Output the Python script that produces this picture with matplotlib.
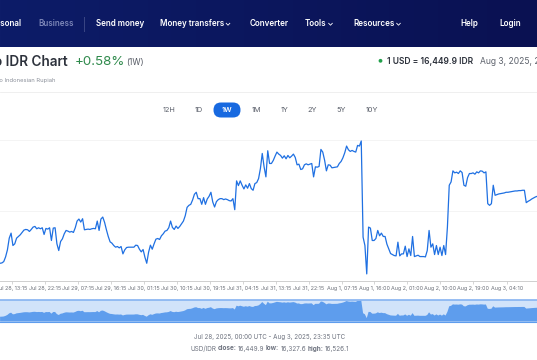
import numpy as np
import pandas as pd
import matplotlib
matplotlib.use('Agg')
import matplotlib.pyplot as plt
from matplotlib.patches import FancyBboxPatch, Circle
from matplotlib.colors import LinearSegmentedColormap

plt.rcParams['font.family'] = ['Inter', 'DejaVu Sans']

# USD/IDR rate, every 30 minutes from Jul 28 10:00 UTC
rate = [
    16343.5, 16344, 16346, 16353, 16363.5, 16381, 16388.5, 16370, 16372.5, 16381,
    16383.5, 16386, 16389.5, 16393, 16394, 16393.5, 16391, 16394, 16397.5, 16398.5,
    16395, 16396.5, 16395, 16396.5, 16386.5, 16395.5, 16394.5, 16396.5, 16377.5, 16396,
    16396.5, 16372.5, 16362.5, 16376, 16380, 16387.5, 16392.5, 16391.5, 16390, 16391,
    16389.5, 16396.5, 16406.5, 16409.5, 16405, 16410, 16393.5, 16394, 16394.5, 16394,
    16395, 16395.5, 16395, 16406.5, 16392.5, 16409.5, 16412.5, 16404.5, 16393.5, 16383.5,
    16375.5, 16373.5, 16370, 16367.5, 16368.5, 16366.5, 16368.5, 16357.5, 16363.5, 16367,
    16367.5, 16367.5, 16367.5, 16367.5, 16370.5, 16370, 16364.5, 16360.5, 16364, 16352.5,
    16343.5, 16360, 16370.5, 16364.5, 16372.5, 16379.5, 16380.5, 16379, 16384.5, 16387.5,
    16391.5, 16392.5, 16396.5, 16406.5, 16397, 16394, 16399, 16395.5, 16398.5, 16402.5,
    16406.5, 16414.5, 16427, 16430, 16431.5, 16438, 16446.5, 16449.5, 16440, 16440,
    16431.5, 16441.5, 16431.5, 16439.5, 16443.5, 16449.5, 16435, 16427.5, 16435.5, 16438.5,
    16440, 16440, 16438.5, 16439.5, 16438.5, 16437, 16436.5, 16440, 16423.5, 16466.5,
    16459.5, 16466.5, 16460, 16454.5, 16460.5, 16455.5, 16462.5, 16455, 16452.5, 16462.5,
    16464, 16470, 16485, 16507.5, 16487.5, 16472.5, 16511.5, 16492.5, 16492.5, 16497,
    16503.5, 16509.5, 16506.5, 16504.5, 16500.5, 16504, 16499.5, 16504.5, 16501, 16503.5,
    16506.5, 16501.5, 16490.5, 16491.5, 16483.5, 16484.5, 16490.5, 16492, 16490.5, 16491.5,
    16492.5, 16472.5, 16487.5, 16487, 16488, 16513.5, 16509.5, 16497.5, 16481.5, 16490.5,
    16490, 16486, 16486.5, 16487, 16487.5, 16492.5, 16495.5, 16501, 16508.5, 16518.5,
    16513, 16510.5, 16512, 16510.5, 16509.5, 16519.5, 16518.5, 16526.1, 16382.5, 16370,
    16327.6, 16397.5, 16396, 16377.5, 16377.5, 16380.5, 16392.5, 16384.5, 16388.5, 16383.5,
    16383.5, 16372, 16365, 16358, 16356.5, 16355, 16354.5, 16375, 16354.5, 16357.5,
    16357.5, 16369, 16353.5, 16365, 16355, 16383.5, 16353.5, 16354.5, 16355.5, 16353.5,
    16353.5, 16353.5, 16353, 16362.5, 16392.5, 16367.5, 16372.5, 16356.5, 16370, 16356.5,
    16367.5, 16355, 16370, 16356.5, 16397.5, 16460, 16465, 16481.5, 16478.5, 16479.5,
    16477.5, 16481.5, 16479, 16460, 16458.5, 16471.5, 16477.5, 16477.5, 16478.5, 16476.5,
    16480, 16478.5, 16481.5, 16481, 16478.5, 16480, 16432.5, 16430, 16432.5, 16460,
    16445, 16446, 16447, 16447.5, 16448, 16448.5, 16449.5, 16449.5, 16450, 16450.5,
    16451, 16451.5, 16451.5, 16452, 16452, 16452.5, 16452.5, 16434, 16436, 16437.5,
    16439.5, 16441, 16442.5, 16443.5,
]
times = pd.date_range('2025-07-28 10:00', periods=len(rate), freq='30min')

tick_times = pd.to_datetime([
    '2025-07-28 13:15', '2025-07-28 22:15', '2025-07-29 07:15', '2025-07-29 16:15',
    '2025-07-30 01:15', '2025-07-30 10:15', '2025-07-30 19:15', '2025-07-31 04:15',
    '2025-07-31 13:15', '2025-07-31 22:15', '2025-08-01 07:15', '2025-08-01 16:00',
    '2025-08-02 01:00', '2025-08-02 10:00', '2025-08-02 19:00', '2025-08-03 04:10',
])
tick_labels = [
    'Jul 28, 13:15', 'Jul 28, 22:15', 'Jul 29, 07:15', 'Jul 29, 16:15',
    'Jul 30, 01:15', 'Jul 30, 10:15', 'Jul 30, 19:15', 'Jul 31, 04:15',
    'Jul 31, 13:15', 'Jul 31, 22:15', 'Aug 1, 07:15', 'Aug 1, 16:00',
    'Aug 2, 01:00', 'Aug 2, 10:00', 'Aug 2, 19:00', 'Aug 3, 04:10',
]

menu = ['Personal', 'Business', 'Send money', 'Money transfers', 'Converter',
        'Tools', 'Resources', 'Help', 'Login']
menu_x = [21.5, 38.7, 95.7, 160, 249.7, 305, 353, 460.7, 499.7]
chevron_x = [228, 330.5, 398.5]

ranges = ['12H', '1D', '1W', '1M', '1Y', '2Y', '5Y', '10Y']
range_x = [169.2, 199, 227, 256.7, 284.2, 311.8, 341, 371.7]

W, H = 537, 360
fig = plt.figure(figsize=(W / 100, H / 100), dpi=100, facecolor='white')

# page layer in pixel units
bg = fig.add_axes([0, 0, 1, 1])
navcm = LinearSegmentedColormap.from_list('nav', ['#0d1c68', '#0a1152'])
bg.imshow(np.linspace(0, 1, 200)[None, :], extent=[0, W, 47.5, 0], cmap=navcm, aspect='auto')
bg.set_xlim(0, W)
bg.set_ylim(H, 0)
bg.axis('off')

for i, (s, x) in enumerate(zip(menu, menu_x)):
    col = '#7d87b8' if s == 'Business' else 'white'
    bg.text(x, 24, s, color=col, fontsize=5.8, fontweight='semibold',
            ha='right' if i == 0 else 'left', va='center')
bg.plot([84, 84], [17, 31], color='#3a4685', lw=0.7)
for cx in chevron_x:
    bg.plot([cx - 1.8, cx, cx + 1.8], [23.3, 25.2, 23.3], color='white', lw=0.6)

# title row
bg.text(67.5, 61.7, 'USD to IDR Chart', fontsize=9.8, fontweight='semibold',
        color='#2d323c', ha='right', va='center')
bg.text(75, 61.7, '+0.58%', fontsize=9.6, color='#2f8a4c', va='center')
bg.text(126, 62.5, '(1W)', fontsize=6.0, color='#555a64', va='center')
bg.text(56, 80.3, 'US Dollar to Indonesian Rupiah', fontsize=4.2, color='#8a8f99',
        ha='right', va='center')

bg.add_patch(Circle((380.5, 60.8), 1.9, color='#22a04b', lw=0))
bg.text(387.3, 61, '1 USD = 16,449.9 IDR', fontsize=6.1, fontweight='semibold',
        color='#2d323c', va='center')
bg.text(480, 61, 'Aug 3, 2025, 23:35 UTC', fontsize=6.1, color='#5d626c', va='center')

bg.plot([0, W], [91.7, 91.7], color='#ededed', lw=0.6)

# range buttons
bg.add_patch(FancyBboxPatch((213.5, 102.5), 27, 15, boxstyle='round,pad=0,rounding_size=7.5',
                            color='#1769e0', lw=0))
for s, x in zip(ranges, range_x):
    on = s == '1W'
    bg.text(x, 110.3, s, fontsize=5.3, color='white' if on else '#5a5f6a',
            fontweight='semibold' if on else 'normal', ha='center', va='center')

# main chart
ax = fig.add_axes([0, (H - 281) / H, 1, (281 - 130) / H])
ax.patch.set_alpha(0)
ax.plot(times, rate, color='#1f70e2', lw=0.9, solid_joinstyle='round')
ax.set_xlim(pd.Timestamp('2025-07-28 09:58:36'), pd.Timestamp('2025-08-03 12:26'))
ax.set_ylim(16317, 16542.5)
ax.set_yticks([16422, 16527])
ax.yaxis.grid(True, color='#f2f2f2', lw=0.6)
ax.tick_params(axis='y', length=0, labelleft=False)
for sp in ['top', 'left', 'right']:
    ax.spines[sp].set_visible(False)
ax.spines['bottom'].set_color('#cfcfcf')
ax.spines['bottom'].set_linewidth(0.7)
ax.set_xticks(tick_times)
ax.set_xticklabels(tick_labels, fontsize=3.9, color='#6b6f78')
ax.tick_params(axis='x', length=2.5, width=0.6, color='#cfcfcf', pad=1.3)

# navigator
nav = fig.add_axes([0, (H - 321.5) / H, 1, 21.5 / H])
nav.set_facecolor('#d1e3fa')
nav.fill_between(times, rate, 16290, color='#5e9ded', lw=0)
nav.set_xlim(ax.get_xlim())
nav.set_ylim(16290, 16530)
nav.set_xticks([])
nav.set_yticks([])
for sp in ['left', 'right']:
    nav.spines[sp].set_visible(False)
nav.spines['top'].set_color('#86b3f1')
nav.spines['top'].set_linewidth(1.2)
nav.spines['bottom'].set_color('#5e9ded')
nav.spines['bottom'].set_linewidth(0.8)

# footer
bg.text(270, 337, 'Jul 28, 2025, 00:00 UTC - Aug 3, 2025, 23:35 UTC', fontsize=4.5,
        color='#6f7480', ha='center', va='center')
parts = [('USD/IDR', 'normal'), ('close:', 'bold'), ('16,449.9', 'normal'),
         ('low:', 'bold'), ('16,327.6', 'normal'), ('high:', 'bold'), ('16,526.1', 'normal')]
gap = 1.4
r = fig.canvas.get_renderer()
txts = [bg.text(0, 348.5, s, fontsize=4.6, fontweight=w, color='#6f7480', va='center')
        for s, w in parts]
widths = [t.get_window_extent(r).width for t in txts]
cur = 270 - (sum(widths) + gap * (len(widths) - 1)) / 2
for t, wd in zip(txts, widths):
    t.set_x(cur)
    cur += wd + gap

fig.savefig('out.png', dpi=100, facecolor='white')
